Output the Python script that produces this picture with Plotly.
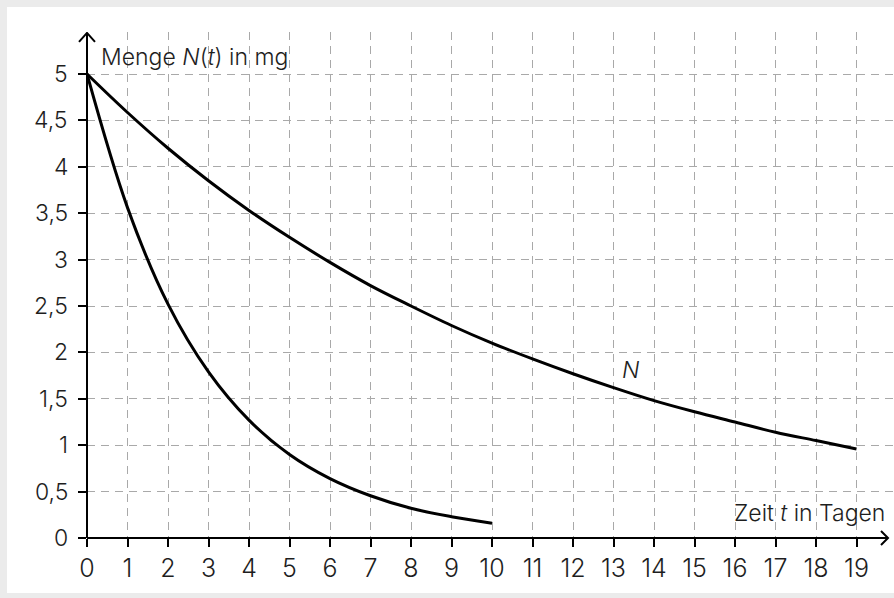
import plotly.graph_objects as go

# ---- data ----
t_N = list(range(0, 20))
N_vals = [5.0, 4.585, 4.2, 3.85, 3.53, 3.24, 2.97, 2.72, 2.5, 2.29, 2.1,
          1.93, 1.77, 1.62, 1.48, 1.36, 1.25, 1.14, 1.05, 0.96]
t_M = list(range(0, 11))
M_vals = [5.0, 3.56, 2.52, 1.79, 1.27, 0.9, 0.64, 0.455, 0.32, 0.23, 0.16]

x_ticks = list(range(0, 20))
x_tick_labels = [str(v) for v in x_ticks]
y_ticks = [0, 0.5, 1, 1.5, 2, 2.5, 3, 3.5, 4, 4.5, 5]
y_tick_labels = ["0", "0,5", "1", "1,5", "2", "2,5", "3", "3,5", "4", "4,5", "5"]

# ---- geometry ----
W, H = 894, 598
L, R, T, B = 87, 0, 32, 60
px_x = 40.5   # pixels per day
px_y = 92.8   # pixels per mg
x_max = (W - L - R) / px_x
y_max = (H - T - B) / px_y
x_arrow = (888 - L) / px_x

FONT = "Inter"
WEIGHT = 300
TXT = "#1e1e1e"
GRID = "#a9a9a9"

fig = go.Figure()
fig.add_trace(go.Scatter(x=t_N, y=N_vals, mode="lines",
                         line=dict(color="black", width=3, shape="spline", smoothing=1.0),
                         hoverinfo="skip", showlegend=False))
fig.add_trace(go.Scatter(x=t_M, y=M_vals, mode="lines",
                         line=dict(color="black", width=3, shape="spline", smoothing=1.0),
                         hoverinfo="skip", showlegend=False))

pw = W - L - R
ph = H - T - B
# white panel
fig.add_shape(type="rect", xref="paper", yref="paper", layer="below",
              x0=(7 - L) / pw, x1=1.0 + (R + 2) / pw,
              y0=-(B - 5) / ph, y1=1 + (T - 7) / ph,
              fillcolor="white", line=dict(width=0))

# axis lines
fig.add_shape(type="line", xref="x", yref="paper", x0=0, x1=x_arrow, y0=0, y1=0,
              line=dict(color="black", width=2))
fig.add_shape(type="line", xref="paper", yref="y", x0=0, x1=0, y0=0, y1=y_max - 0.01,
              line=dict(color="black", width=2))
# arrow heads (open chevrons)
fig.add_shape(type="path", xref="x", yref="paper", xsizemode="pixel", ysizemode="pixel",
              xanchor=x_arrow, yanchor=0, path="M -7,7 L 0,0 L -7,-7",
              line=dict(color="black", width=2))
fig.add_shape(type="path", xref="paper", yref="y", xsizemode="pixel", ysizemode="pixel",
              xanchor=0, yanchor=y_max - 0.01, path="M -8,-9 L 0,0 L 8,-9",
              line=dict(color="black", width=2))

tf = dict(family=FONT, size=23, color=TXT, weight=WEIGHT)
fig.add_annotation(text="Menge <i>N</i>(<i>t</i>) in mg", xref="paper", yref="y",
                   x=0, xshift=12, y=(538 - 57) / px_y, xanchor="left", yanchor="middle",
                   showarrow=False, font=tf)
fig.add_annotation(text="Zeit <i>t</i> in Tagen", xref="x", yref="y",
                   x=(887 - L) / px_x, y=(538 - 513) / px_y, xanchor="right", yanchor="middle",
                   showarrow=False, font=tf)
fig.add_annotation(text="<i>N</i>", xref="x", yref="y",
                   x=(630 - L) / px_x, y=(538 - 370) / px_y, xanchor="center", yanchor="middle",
                   showarrow=False, font=tf)

# y tick labels, placed a little further left of the axis than plotly's default
for val, lab in zip(y_ticks, y_tick_labels):
    fig.add_annotation(text=lab, xref="paper", yref="y", x=0, xshift=-17, y=val,
                       xanchor="right", yanchor="middle", showarrow=False,
                       font=dict(family=FONT, size=23, color=TXT, weight=WEIGHT))

fig.update_xaxes(range=[0, x_max], tickvals=x_ticks, ticktext=x_tick_labels,
                 showgrid=True, gridcolor=GRID, gridwidth=1.2, griddash="8px,6px",
                 zeroline=False, showline=False, ticks="outside", ticklen=8, tickwidth=2,
                 tickcolor="black", tickfont=dict(family=FONT, size=25, color=TXT, weight=WEIGHT),
                 automargin=False, fixedrange=True)
fig.update_yaxes(range=[0, y_max], tickvals=y_ticks, showticklabels=False,
                 showgrid=True, gridcolor=GRID, gridwidth=1.2, griddash="8px,6px",
                 zeroline=False, showline=False, ticks="outside", ticklen=8, tickwidth=2,
                 tickcolor="black",
                 automargin=False, fixedrange=True)

fig.update_layout(width=W, height=H, margin=dict(l=L, r=R, t=T, b=B, pad=0, autoexpand=False),
                  paper_bgcolor="#ebebeb", plot_bgcolor="white", showlegend=False)

fig.write_html("out.html", config={"displayModeBar": False},
               post_script="document.body.style.margin='0';document.body.style.padding='0';"
                           "document.body.style.overflow='hidden';")
